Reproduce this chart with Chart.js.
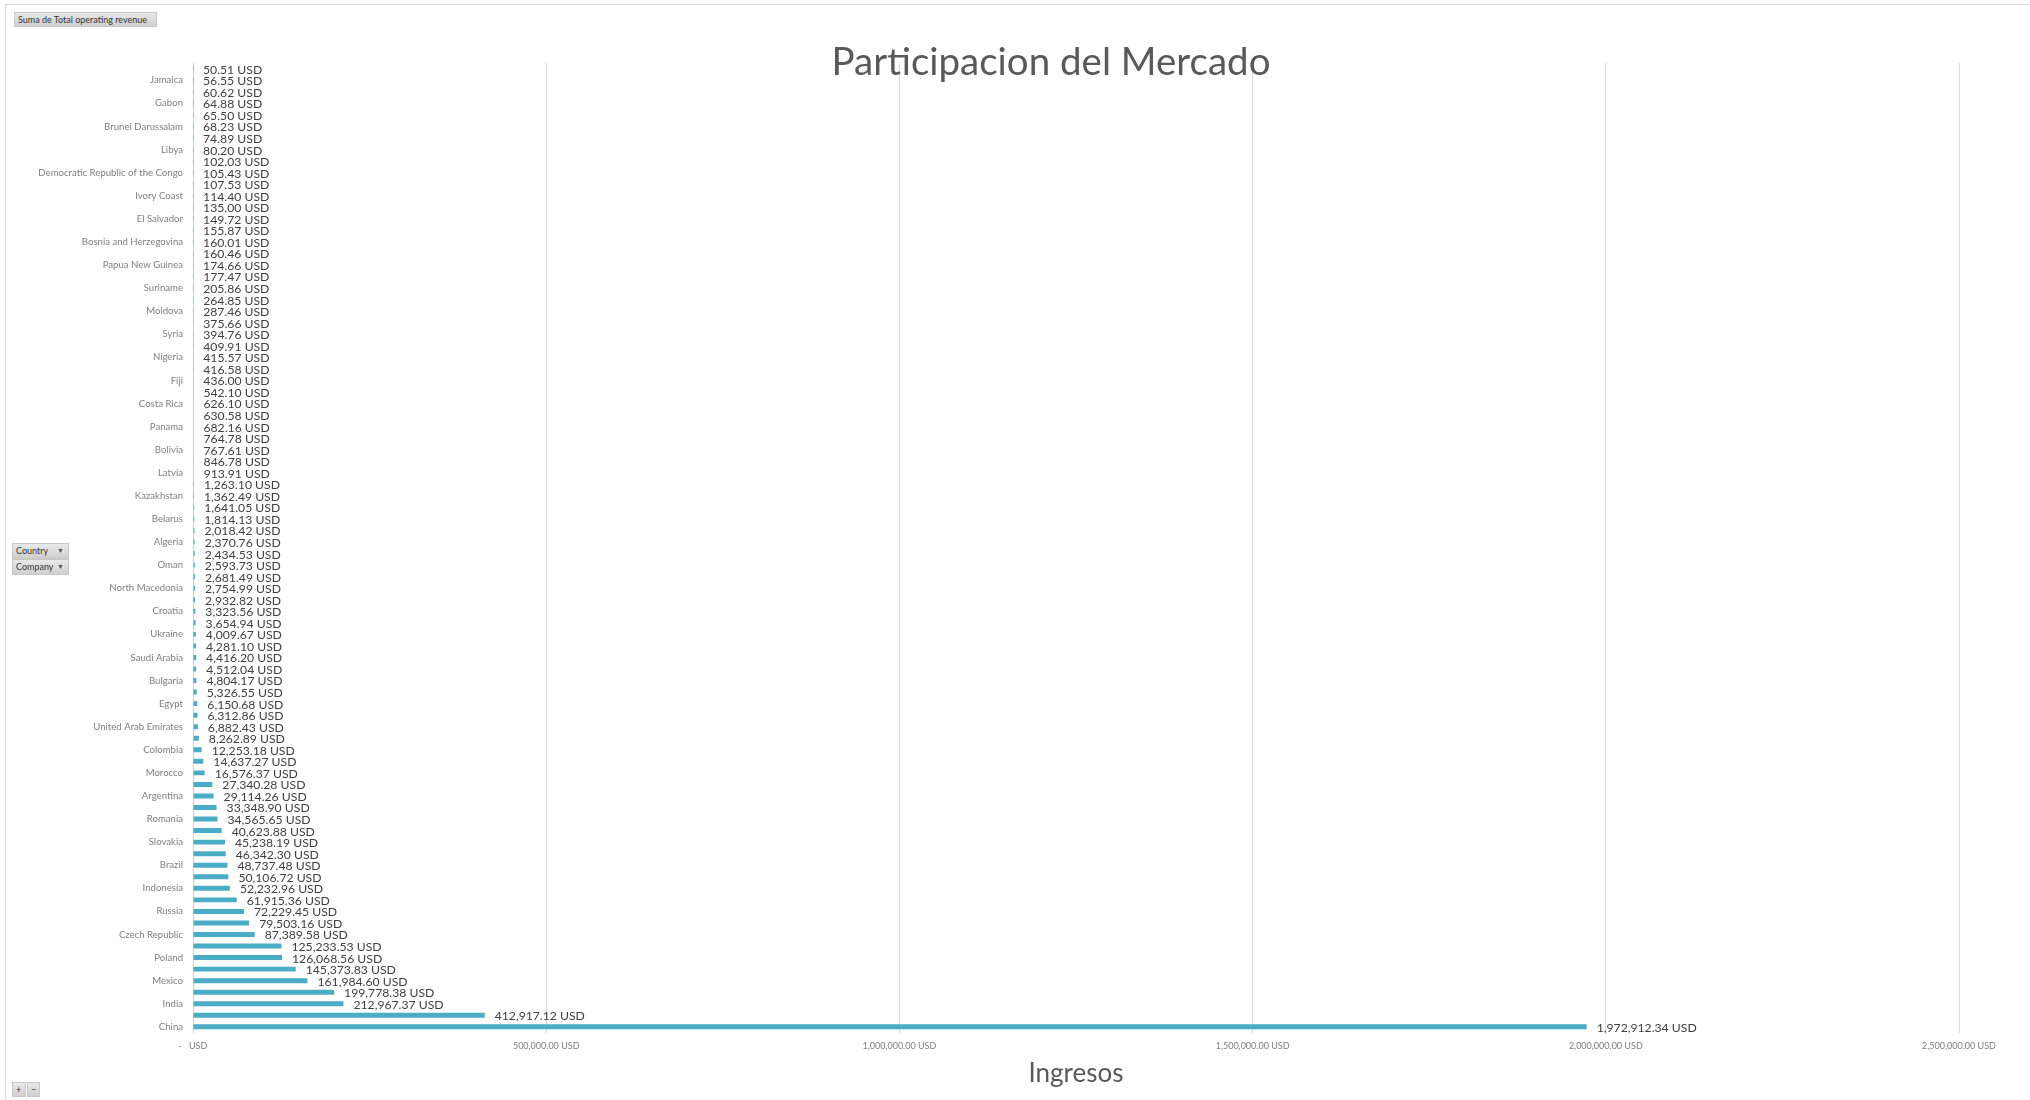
<!DOCTYPE html>
<html>
<head>
<meta charset="utf-8">
<title>Participacion del Mercado</title>
<script src="https://cdn.jsdelivr.net/npm/chart.js@4.4.1/dist/chart.umd.min.js"></script>
<style>
  html, body { margin: 0; padding: 0; background: #fff; overflow: hidden; }
  #wrap { position: absolute; left: 0; top: 0; width: 2030px; height: 1100px; }
  .frame-top { position: absolute; left: 5px; top: 4px; width: 2025px; height: 1px; background: #d9d9d9; }
  .frame-left { position: absolute; left: 5px; top: 4px; width: 1px; height: 1096px; background: #d9d9d9; }
  .pivot-btn {
    position: absolute; box-sizing: border-box; height: 15px;
    background: linear-gradient(#e9e9e9, #cfcfcf);
    border: 1px solid #c8c8c8;
    font: 9px Lato, sans-serif; color: #333; line-height: 13px; padding-left: 3px;
    white-space: nowrap;
  }
  .pivot-btn .arrow { position: absolute; right: 4px; top: 0; font-size: 7px; color: #555; }
</style>
</head>
<body>
<div class="frame-top"></div>
<div class="frame-left"></div>
<div id="wrap"><canvas id="marketChart"></canvas></div>
<div class="pivot-btn" style="left:14px; top:12px; width:143px;">Suma de Total operating revenue</div>
<div class="pivot-btn" style="left:12px; top:543px; width:57px; height:16px;">Country<span class="arrow">&#9660;</span></div>
<div class="pivot-btn" style="left:12px; top:559px; width:57px; height:16px;">Company<span class="arrow">&#9660;</span></div>
<div class="pivot-btn" style="left:12px; top:1082px; width:14px; padding-left:3px;">+</div>
<div class="pivot-btn" style="left:27px; top:1082px; width:13px; padding-left:3px;">&minus;</div>
<script>
// Countries (only every second one is named on the axis)
var countries = [
  "", "Jamaica", "", "Gabon", "", "Brunei Darussalam", "", "Libya",
  "", "Democratic Republic of the Congo", "", "Ivory Coast", "", "El Salvador",
  "", "Bosnia and Herzegovina", "", "Papua New Guinea", "", "Suriname",
  "", "Moldova", "", "Syria", "", "Nigeria", "", "Fiji", "", "Costa Rica",
  "", "Panama", "", "Bolivia", "", "Latvia", "", "Kazakhstan", "", "Belarus",
  "", "Algeria", "", "Oman", "", "North Macedonia", "", "Croatia", "", "Ukraine",
  "", "Saudi Arabia", "", "Bulgaria", "", "Egypt", "", "United Arab Emirates",
  "", "Colombia", "", "Morocco", "", "Argentina", "", "Romania", "", "Slovakia",
  "", "Brazil", "", "Indonesia", "", "Russia", "", "Czech Republic",
  "", "Poland", "", "Mexico", "", "India", "", "China"
];

// Suma de Total operating revenue (USD)
var revenue = [
  50.51, 56.55, 60.62, 64.88, 65.50, 68.23, 74.89, 80.20,
  102.03, 105.43, 107.53, 114.40, 135.00, 149.72,
  155.87, 160.01, 160.46, 174.66, 177.47, 205.86,
  264.85, 287.46, 375.66, 394.76, 409.91, 415.57, 416.58, 436.00, 542.10, 626.10,
  630.58, 682.16, 764.78, 767.61, 846.78, 913.91, 1263.10, 1362.49, 1641.05, 1814.13,
  2018.42, 2370.76, 2434.53, 2593.73, 2681.49, 2754.99, 2932.82, 3323.56, 3654.94, 4009.67,
  4281.10, 4416.20, 4512.04, 4804.17, 5326.55, 6150.68, 6312.86, 6882.43,
  8262.89, 12253.18, 14637.27, 16576.37, 27340.28, 29114.26, 33348.90, 34565.65, 40623.88, 45238.19,
  46342.30, 48737.48, 50106.72, 52232.96, 61915.36, 72229.45, 79503.16, 87389.58,
  125233.53, 126068.56, 145373.83, 161984.60, 199778.38, 212967.37, 412917.12, 1972912.34
];

// x axis ticks
var xTicks = [0, 500000, 1000000, 1500000, 2000000, 2500000];

function usd(v) {
  return v.toLocaleString("en-US", { minimumFractionDigits: 2, maximumFractionDigits: 2 }) + " USD";
}

// value label at the end of each bar
var barValues = {
  id: "barValues",
  afterDatasetsDraw: function (chart) {
    var ctx = chart.ctx;
    var meta = chart.getDatasetMeta(0);
    ctx.save();
    ctx.font = "12.2px Lato";
    ctx.fillStyle = "#404040";
    ctx.textAlign = "left";
    ctx.textBaseline = "middle";
    meta.data.forEach(function (bar, i) {
      ctx.fillText(usd(revenue[i]), bar.x + 10, bar.y + 1);
    });
    ctx.restore();
  }
};

// chart title sits on top of the plot area
var overlayTitle = {
  id: "overlayTitle",
  afterDraw: function (chart) {
    var ctx = chart.ctx;
    ctx.save();
    ctx.font = "38.5px Lato";
    ctx.fillStyle = "#595959";
    ctx.textAlign = "center";
    ctx.textBaseline = "middle";
    ctx.fillText("Participacion del Mercado", chart.width / 2 + 36, 63);
    ctx.restore();
  }
};

new Chart(document.getElementById("marketChart").getContext("2d"), {
  type: "bar",
  data: {
    labels: countries,
    datasets: [{
      label: "Suma de Total operating revenue",
      data: revenue,
      backgroundColor: "#4BACC6",
      categoryPercentage: 1,
      barPercentage: 0.43
    }]
  },
  options: {
    indexAxis: "y",
    responsive: true,
    maintainAspectRatio: false,
    animation: false,
    layout: { padding: { left: 0, right: 71, top: 63, bottom: 0 } },
    plugins: {
      legend: { display: false },
      title: { display: false },
      tooltip: { enabled: false }
    },
    scales: {
      x: {
        min: 0,
        max: 2500000,
        afterBuildTicks: function (scale) {
          scale.ticks = xTicks.map(function (v) { return { value: v }; });
        },
        grid: { color: "#d9d9d9", drawTicks: false },
        border: { display: false },
        ticks: {
          padding: 8,
          color: "#808080",
          font: { family: "Lato", size: 9 },
          maxRotation: 0,
          callback: function (v) { return v === 0 ? "-   USD" : usd(v); }
        },
        title: {
          display: true,
          text: "Ingresos",
          color: "#595959",
          font: { family: "Lato", size: 26, lineHeight: 1 },
          padding: { top: 1, bottom: 13.6 }
        }
      },
      y: {
        afterFit: function (scale) { scale.width = 193; },
        grid: { display: false, drawTicks: false },
        border: { display: true, color: "#d0d0d0" },
        ticks: {
          autoSkip: false,
          padding: 10,
          color: "#7f7f7f",
          font: { family: "Lato", size: 9.6 }
        }
      }
    }
  },
  plugins: [barValues, overlayTitle]
});
</script>
</body>
</html>
